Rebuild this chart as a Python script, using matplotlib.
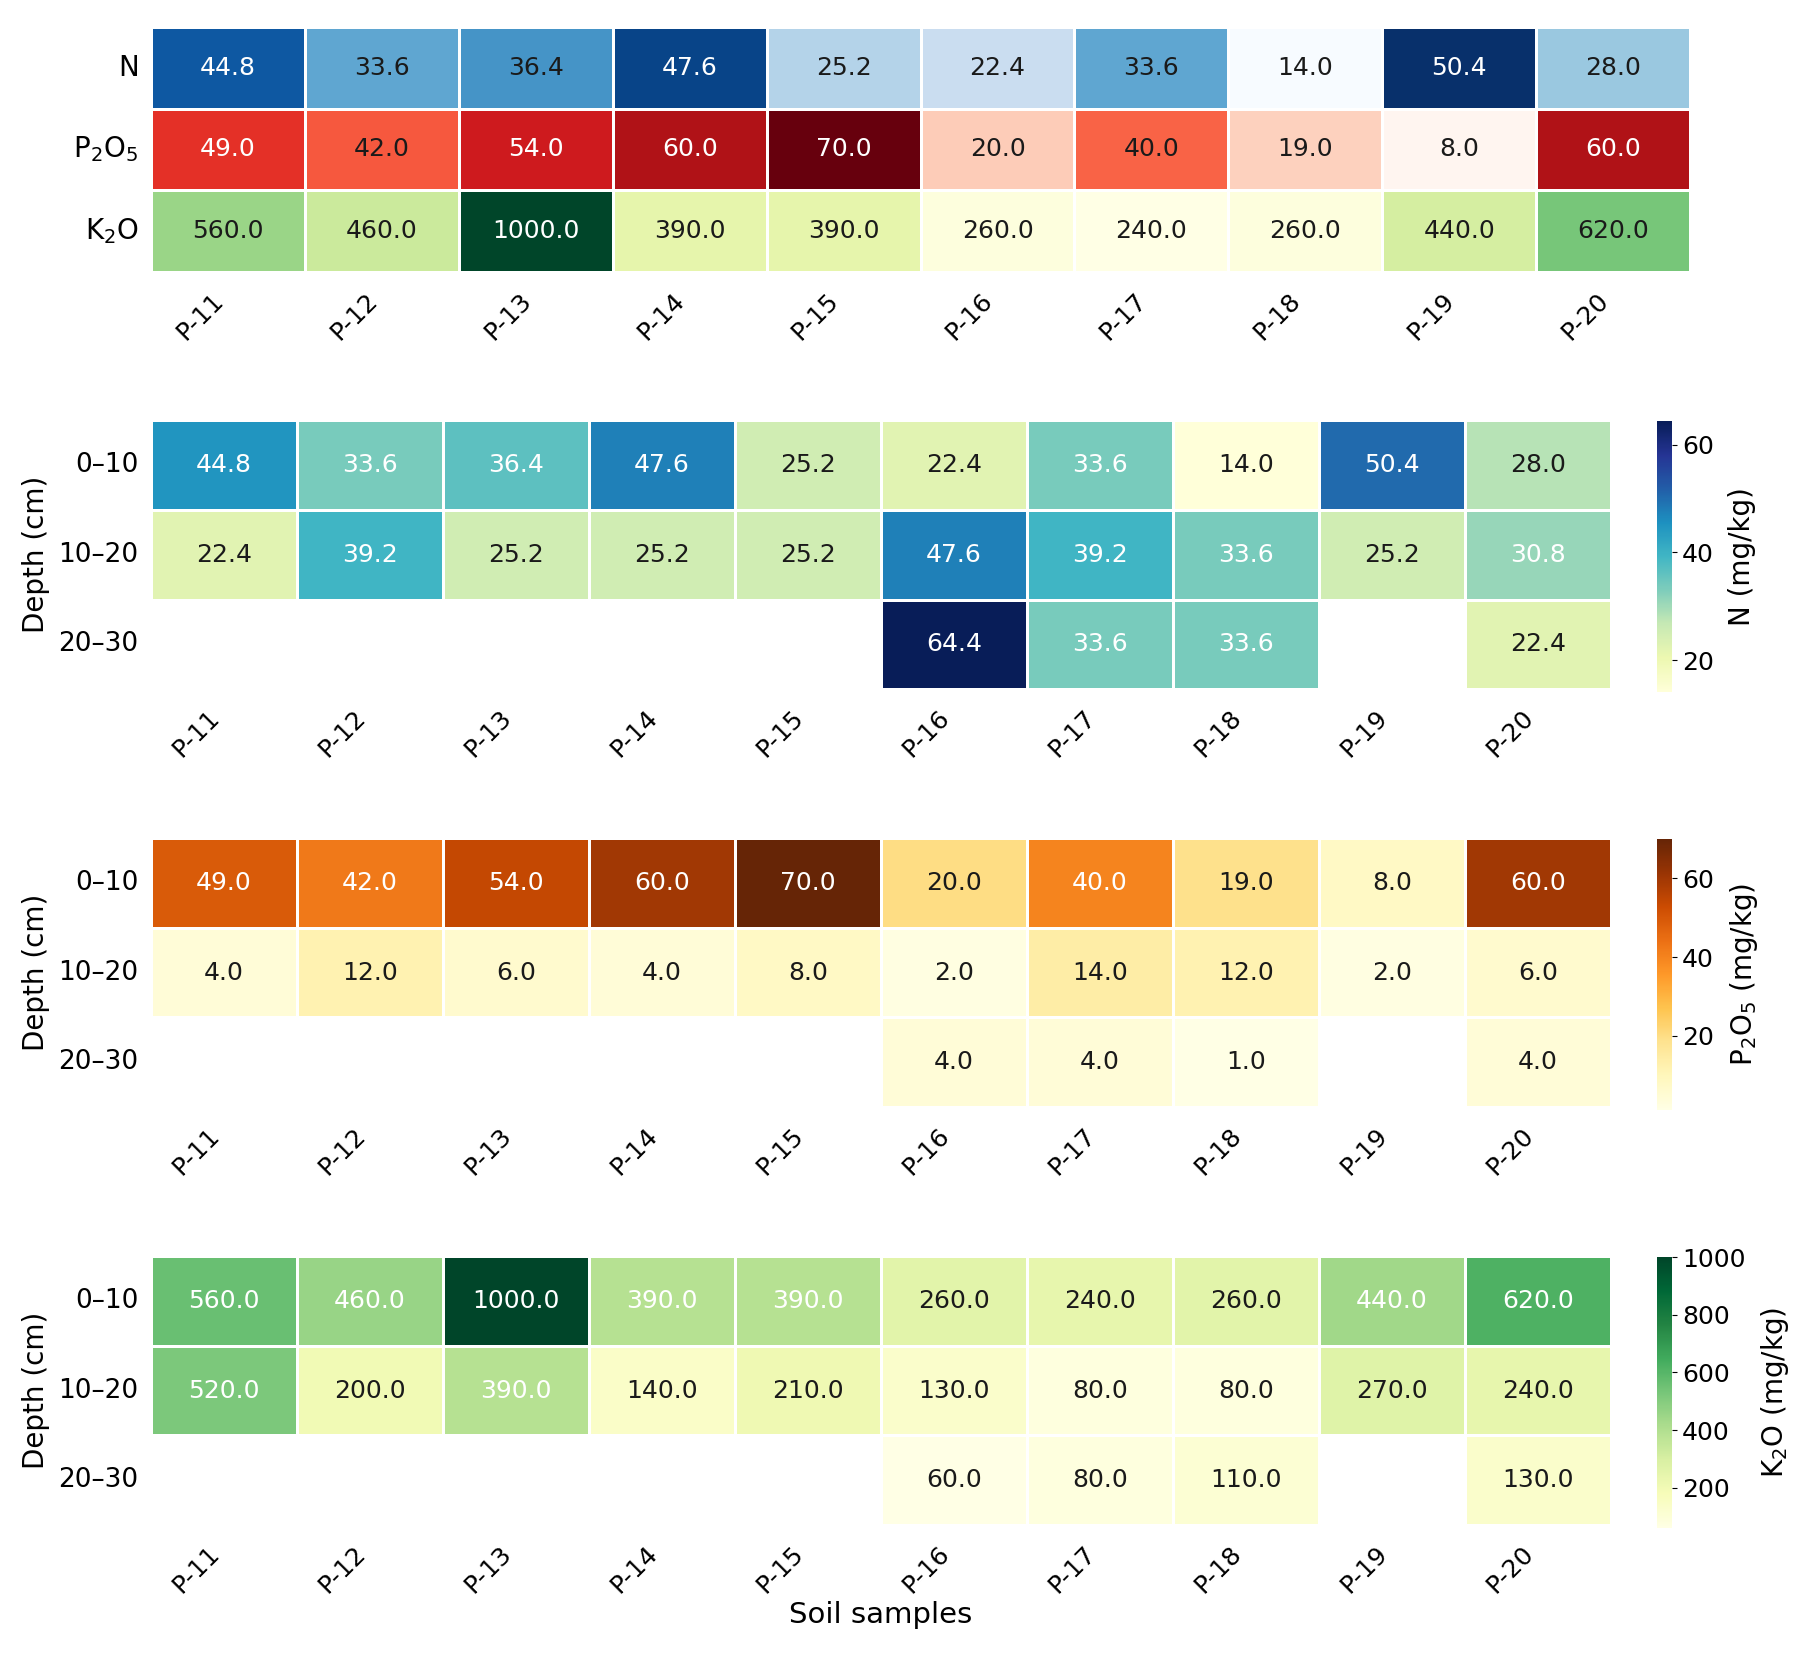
import numpy as np
import matplotlib
matplotlib.use("Agg")
import matplotlib.pyplot as plt
import seaborn as sns

samples = ["P-11", "P-12", "P-13", "P-14", "P-15", "P-16", "P-17", "P-18", "P-19", "P-20"]
depths = ["0\u201310", "10\u201320", "20\u201330"]
nutrients = ["N", r"P$_2$O$_5$", r"K$_2$O"]

nan = np.nan
N_vals = [
    [44.8, 33.6, 36.4, 47.6, 25.2, 22.4, 33.6, 14.0, 50.4, 28.0],
    [22.4, 39.2, 25.2, 25.2, 25.2, 47.6, 39.2, 33.6, 25.2, 30.8],
    [nan, nan, nan, nan, nan, 64.4, 33.6, 33.6, nan, 22.4],
]
P_vals = [
    [49.0, 42.0, 54.0, 60.0, 70.0, 20.0, 40.0, 19.0, 8.0, 60.0],
    [4.0, 12.0, 6.0, 4.0, 8.0, 2.0, 14.0, 12.0, 2.0, 6.0],
    [nan, nan, nan, nan, nan, 4.0, 4.0, 1.0, nan, 4.0],
]
K_vals = [
    [560.0, 460.0, 1000.0, 390.0, 390.0, 260.0, 240.0, 260.0, 440.0, 620.0],
    [520.0, 200.0, 390.0, 140.0, 210.0, 130.0, 80.0, 80.0, 270.0, 240.0],
    [nan, nan, nan, nan, nan, 60.0, 80.0, 110.0, nan, 130.0],
]

top_cmaps = ["Blues", "Reds", "YlGn"]
depth_cmaps = ["YlGnBu", "YlOrBr", "YlGn"]
cbar_labels = ["N (mg/kg)", r"P$_2$O$_5$ (mg/kg)", r"K$_2$O (mg/kg)"]

plt.rcParams["font.family"] = ["DejaVu Sans"]
FS_TICK = 19
FS_XTICK = 18
FS_ANNOT = 18
FS_LABEL = 20
FS_CBAR = 18

fig = plt.figure(figsize=(18.13, 16.54), dpi=100)

def annotate(ax, data, vmin, vmax, thr):
    data = np.asarray(data, dtype=float)
    for i in range(data.shape[0]):
        for j in range(data.shape[1]):
            v = data[i, j]
            if np.isnan(v):
                continue
            t = (v - vmin) / (vmax - vmin)
            col = "white" if t > thr else ".1"
            ax.text(j + 0.5, i + 0.5, f"{v:.1f}", ha="center", va="center",
                    fontsize=FS_ANNOT, color=col)

def style_ticks(ax):
    ax.tick_params(axis="both", length=0)
    ax.tick_params(axis="x", pad=12)
    ax.tick_params(axis="y", pad=9)
    ax.set_xticks(np.arange(len(samples)) + 0.5)
    ax.set_xticklabels(samples, rotation=45, ha="right", fontsize=FS_XTICK)

# ---- top summary heatmap (0-10 cm) ----
ax0 = fig.add_axes([0.0833, 0.8356, 0.8489, 0.1481])
top = np.array([N_vals[0], P_vals[0], K_vals[0]], dtype=float)
for r in range(3):
    mask = np.ones_like(top, dtype=bool)
    mask[r, :] = False
    row = top[r]
    sns.heatmap(top, mask=mask, cmap=top_cmaps[r], vmin=np.nanmin(row), vmax=np.nanmax(row),
                cbar=False, linewidths=1, linecolor="white", ax=ax0)
for r in range(3):
    row = top[r]
    annotate_data = np.full_like(top, np.nan)
    annotate_data[r] = row
    annotate(ax0, annotate_data, np.nanmin(row), np.nanmax(row), 0.64)
style_ticks(ax0)
ax0.set_yticks(np.arange(3) + 0.5)
ax0.set_yticklabels(nutrients, rotation=0, fontsize=FS_TICK + 1)
ax0.set_xlabel("")
ax0.set_ylabel("")

# ---- depth heatmaps ----
panels = [(N_vals, 0.5834), (P_vals, 0.3307), (K_vals, 0.0780)]
for k, (vals, bottom) in enumerate(panels):
    ax = fig.add_axes([0.0833, bottom, 0.8053, 0.1624])
    cax = fig.add_axes([0.9140, bottom - 0.002, 0.0083, 0.1640])
    arr = np.array(vals, dtype=float)
    vmin, vmax = np.nanmin(arr), np.nanmax(arr)
    sns.heatmap(arr, cmap=depth_cmaps[k], vmin=vmin, vmax=vmax, linewidths=1,
                linecolor="white", ax=ax, cbar_ax=cax)
    annotate(ax, arr, vmin, vmax, 0.3)
    style_ticks(ax)
    ax.set_yticks(np.arange(3) + 0.5)
    ax.set_yticklabels(depths, rotation=0, fontsize=FS_TICK)
    ax.set_ylabel("Depth (cm)", fontsize=FS_LABEL)
    ax.yaxis.set_label_coords(-0.069, 0.5)
    cax.tick_params(labelsize=FS_CBAR)
    cax.set_ylabel(cbar_labels[k], fontsize=FS_LABEL, labelpad=10)
    if k == 2:
        ax.set_xlabel("Soil samples", fontsize=FS_LABEL + 1, labelpad=2)

fig.savefig("out.png", dpi=100, facecolor="white")
